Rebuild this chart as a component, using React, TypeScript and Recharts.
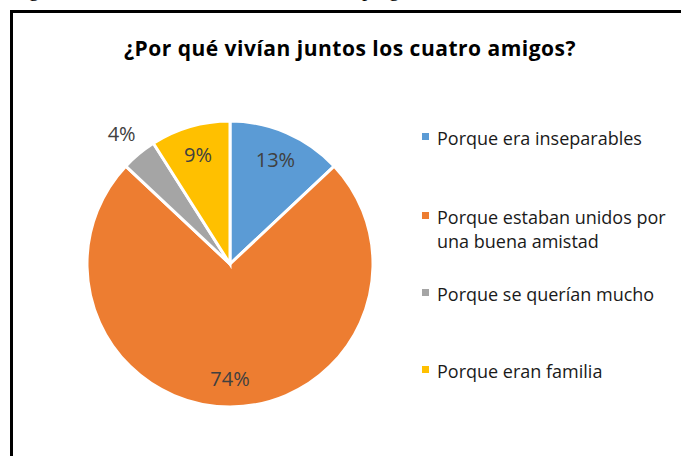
import React from "react";
import { PieChart, Pie, Cell, Legend } from "recharts";

const categories = [
  "Porque era inseparables",
  "Porque estaban unidos por una buena amistad",
  "Porque se querían mucho",
  "Porque eran familia",
];
const values = [13, 74, 4, 9];
const colors = ["#5B9BD5", "#ED7D31", "#A5A5A5", "#FFC000"];
const title = "¿Por qué vivían juntos los cuatro amigos?";

const data = categories.map((name, i) => ({ name, value: values[i] }));

const RAD = Math.PI / 180;
const FONT = "'Open Sans', sans-serif";

const renderLabel = (props: any) => {
  const { cx, cy, midAngle, outerRadius, percent } = props;
  const r = percent < 0.05 ? outerRadius + 27 : outerRadius * 0.8;
  const x = cx + r * Math.cos(-midAngle * RAD);
  const y = cy + r * Math.sin(-midAngle * RAD);
  return (
    <text
      x={x}
      y={y}
      fill="#404040"
      fontSize={20}
      fontFamily={FONT}
      textAnchor="middle"
      dominantBaseline="central"
    >
      {`${Math.round(percent * 100)}%`}
    </text>
  );
};

const legendGaps = [0, 55, 29, 53];

const renderLegend = () => (
  <div style={{ fontFamily: FONT, fontSize: 18, color: "#1a1a1a" }}>
    {categories.map((c, i) => (
      <div
        key={c}
        style={{
          display: "flex",
          alignItems: "flex-start",
          marginTop: legendGaps[i],
          lineHeight: "24px",
        }}
      >
        <span
          style={{
            display: "inline-block",
            width: 7,
            height: 7,
            background: colors[i],
            marginTop: 7,
            marginRight: 8,
            flexShrink: 0,
          }}
        />
        <span style={{ width: 244 }}>{c}</span>
      </div>
    ))}
  </div>
);

const captionStyle: React.CSSProperties = {
  position: "absolute",
  top: -21,
  fontFamily: "'Liberation Serif', 'Times New Roman', serif",
  fontSize: 21,
  lineHeight: "21px",
  whiteSpace: "nowrap",
  color: "#000",
};

export default function App() {
  return (
    <div style={{ position: "absolute", left: 0, top: 0, width: 681, height: 456, overflow: "hidden", background: "#fff" }}>
      <div
        style={{
          position: "absolute",
          left: 10,
          top: 10,
          width: 700,
          height: 500,
          border: "3px solid #000",
          boxSizing: "border-box",
        }}
      />
      <div style={{ ...captionStyle, left: 11 }}>Figura</div>
      <div style={{ ...captionStyle, left: 362 }}>pregunta</div>
      <div
        style={{
          position: "absolute",
          left: 350,
          top: 33,
          transform: "translateX(-50%)",
          fontFamily: FONT,
          fontWeight: 700,
          fontSize: 21,
          lineHeight: "30px",
          letterSpacing: 0.5,
          whiteSpace: "nowrap",
          color: "#000",
        }}
      >
        {title}
      </div>
      <div style={{ position: "absolute", left: 0, top: 0 }}>
        <PieChart width={681} height={456} margin={{ top: 0, right: 0, bottom: 0, left: 0 }}>
          <Pie
            data={data}
            dataKey="value"
            nameKey="name"
            cx={230}
            cy={264}
            outerRadius={143}
            startAngle={90}
            endAngle={-270}
            stroke="#fff"
            strokeWidth={3}
            label={renderLabel}
            labelLine={false}
            isAnimationActive={false}
          >
            {data.map((d, i) => (
              <Cell key={d.name} fill={colors[i]} />
            ))}
          </Pie>
          <Legend
            layout="vertical"
            align="right"
            verticalAlign="top"
            content={renderLegend}
            wrapperStyle={{ left: 422, top: 126, width: 259 }}
          />
        </PieChart>
      </div>
    </div>
  );
}
